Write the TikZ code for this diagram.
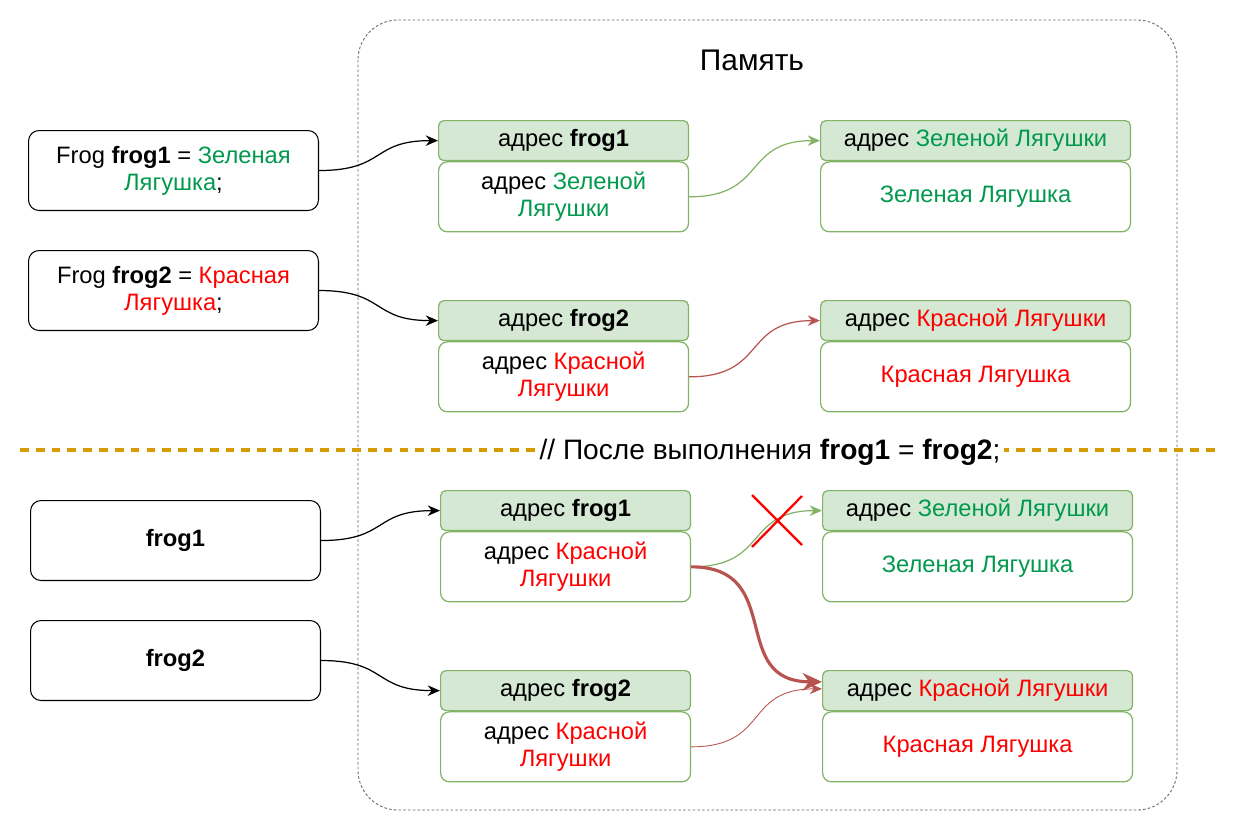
\documentclass[tikz,border=0pt]{standalone}
\usepackage{fontspec}
\setmainfont{Liberation Sans}
\usetikzlibrary{positioning}
\usetikzlibrary{arrows.meta}
\definecolor{zelen}{HTML}{00994D}
\definecolor{krasn}{HTML}{FF0000}
\definecolor{hdrfill}{HTML}{D5E8D4}
\definecolor{hdrline}{HTML}{82B366}
\definecolor{redline}{HTML}{B85450}
\definecolor{gold}{HTML}{D79B00}
\newcommand{\zel}[1]{\textcolor{zelen}{#1}}
\newcommand{\kra}[1]{\textcolor{krasn}{#1}}

\begin{document}
\begin{tikzpicture}[x=0.02cm, y=-0.02cm, font=\fontsize{13.5}{15.5}\selectfont,
    code/.style={draw=black, fill=white, rounded corners=6pt, line width=0.6pt,
      minimum width=5.8cm, minimum height=1.6cm, align=center, anchor=north west},
    addr/.style={draw=hdrline, fill=hdrfill, rounded corners=3pt, line width=0.7pt,
      minimum width=5cm, minimum height=0.8cm, anchor=north west},
    cell/.style={draw=hdrline, fill=white, rounded corners=5pt, line width=0.7pt,
      minimum width=5cm, minimum height=1.4cm, align=center},
    oaddr/.style={addr, minimum width=6.2cm},
    ocell/.style={cell, minimum width=6.2cm},
    link/.style={line width=0.7pt, looseness=1.4, -{Stealth[length=7pt,width=6pt]}},
    glink/.style={link, draw=hdrline, color=hdrline},
    rlink/.style={link, draw=redline, color=redline}]
  \useasboundingbox (0,0) rectangle (1241,832);
  %\draw[step=50,gray,very thin] (0,0) grid (1241,832);

  % memory
  \draw[gray!80!black, line width=0.5pt, dash pattern=on 1.5pt off 1.2pt, rounded corners=0.8cm]
    (358,20) rectangle (1177,810);
  \node (mem) at (752,60) {\fontsize{17}{20}\selectfont Память};

  % separator
  \draw[gold, line width=1.8pt, dash pattern=on 5pt off 4pt] (20,450) -- (1215,450);
  \node[fill=white, inner sep=2pt] (after) at (770,452)
    {\fontsize{16}{19}\selectfont // После выполнения \textbf{frog1} = \textbf{frog2};};

  % code
  \node[code] (c1) at (28,130) {Frog \textbf{frog1} = \zel{Зеленая}\\\zel{Лягушка};};
  \node[code] (c2) at (28,250) {Frog \textbf{frog2} = \kra{Красная}\\\kra{Лягушка};};
  \node[code] (c3) at (30,500) {\textbf{frog1}};
  \node[code] (c4) at (30,620) {\textbf{frog2}};

  % variables
  \node[addr] (v1) at (438,120) {адрес \textbf{frog1}};
  \node[cell, below=0pt of v1] (p1) {адрес \zel{Зеленой}\\\zel{Лягушки}};
  \node[addr] (v2) at (438,300) {адрес \textbf{frog2}};
  \node[cell, below=0pt of v2] (p2) {адрес \kra{Красной}\\\kra{Лягушки}};
  \node[addr] (v3) at (440,490) {адрес \textbf{frog1}};
  \node[cell, below=0pt of v3] (p3) {адрес \kra{Красной}\\\kra{Лягушки}};
  \node[addr] (v4) at (440,670) {адрес \textbf{frog2}};
  \node[cell, below=0pt of v4] (p4) {адрес \kra{Красной}\\\kra{Лягушки}};

  % objects
  \node[oaddr] (o1) at (820,120) {адрес \zel{Зеленой Лягушки}};
  \node[ocell, below=0pt of o1] (f1) {\zel{Зеленая Лягушка}};
  \node[oaddr] (o2) at (820,300) {адрес \kra{Красной Лягушки}};
  \node[ocell, below=0pt of o2] (f2) {\kra{Красная Лягушка}};
  \node[oaddr] (o3) at (822,490) {адрес \zel{Зеленой Лягушки}};
  \node[ocell, below=0pt of o3] (f3) {\zel{Зеленая Лягушка}};
  \node[oaddr] (o4) at (822,670) {адрес \kra{Красной Лягушки}};
  \node[ocell, below=0pt of o4] (f4) {\kra{Красная Лягушка}};

  % links
  \draw[link] (c1.east) to[out=0, in=180] (v1.west);
  \draw[link] (c2.east) to[out=0, in=180] (v2.west);
  \draw[link] (c3.east) to[out=0, in=180] (v3.west);
  \draw[link] (c4.east) to[out=0, in=180] (v4.west);
  \draw[glink] (p1.east) to[out=0, in=180] (o1.west);
  \draw[rlink] (p2.east) to[out=0, in=180] (o2.west);
  \draw[glink] (p3.east) to[out=0, in=180] (o3.west);
  \draw[rlink, line width=1.8pt, -{Stealth[length=11pt,width=10pt]}]
    (p3.east) to[out=0, in=180] ([yshift=5pt]o4.west);
  \draw[rlink, line width=0.5pt] (p4.east) to[out=0, in=180] ([yshift=1pt]o4.west);

  % cross
  \draw[krasn, line width=1.3pt] (752,495) -- (802,545) (802,496) -- (752,547);
\end{tikzpicture}
\end{document}
